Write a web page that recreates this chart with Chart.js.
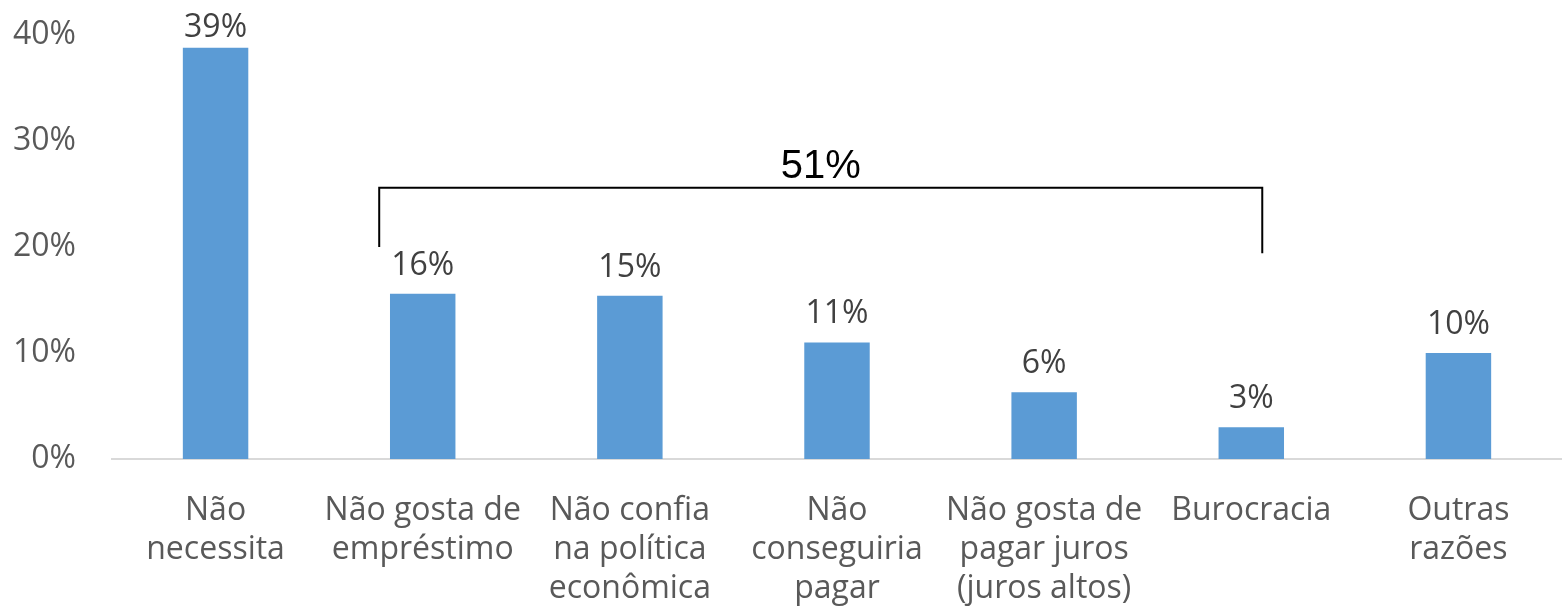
<!DOCTYPE html>
<html>
<head>
<meta charset="utf-8">
<script src="https://cdn.jsdelivr.net/npm/chart.js@4/dist/chart.umd.min.js"></script>
<style>
  html, body { margin: 0; padding: 0; background: #fff; }
  #wrap { width: 1562px; height: 615px; }
</style>
</head>
<body>
<div id="wrap"><canvas id="grafico"></canvas></div>
<script>
// dados
const categorias = [
  ['Não', 'necessita'],
  ['Não gosta de', 'empréstimo'],
  ['Não confia', 'na política', 'econômica'],
  ['Não', 'conseguiria', 'pagar'],
  ['Não gosta de', 'pagar juros', '(juros altos)'],
  ['Burocracia'],
  ['Outras', 'razões']
];
const valores = [38.8, 15.6, 15.4, 11.0, 6.3, 3.0, 10.0];
const ticksY = [0, 10, 20, 30, 40];
const grupoChave = [1, 2, 3, 4, 5]; // barras somadas no colchete (51%)

const corTexto = '#595959';
const fonte = '"Open Sans", "DejaVu Sans", sans-serif';

// rótulos em cima das barras
const rotulosPlugin = {
  id: 'rotulos',
  afterDatasetsDraw(chart) {
    const ctx = chart.ctx;
    const meta = chart.getDatasetMeta(0);
    ctx.save();
    ctx.font = '32px ' + fonte;
    ctx.fillStyle = '#404040';
    ctx.textAlign = 'center';
    ctx.textBaseline = 'alphabetic';
    meta.data.forEach((bar, i) => {
      const y = Math.max(bar.y - 19, 37);
      ctx.fillText(Math.round(valores[i]) + '%', bar.x, y);
    });
    ctx.restore();
  }
};

// colchete com o total
const colchetePlugin = {
  id: 'colchete',
  afterDraw(chart) {
    const { ctx, scales: { x, y } } = chart;
    const total = grupoChave.reduce((s, i) => s + valores[i], 0);
    const x1 = x.getPixelForValue(grupoChave[0] - 0.21);
    const x2 = x.getPixelForValue(grupoChave[grupoChave.length - 1] + 0.053);
    const yTopo = y.getPixelForValue(25.6);
    const yEsq = y.getPixelForValue(20.0);
    const yDir = y.getPixelForValue(19.4);
    ctx.save();
    ctx.strokeStyle = '#000';
    ctx.lineWidth = 2;
    ctx.beginPath();
    ctx.moveTo(x1, yEsq);
    ctx.lineTo(x1, yTopo);
    ctx.lineTo(x2, yTopo);
    ctx.lineTo(x2, yDir);
    ctx.stroke();
    ctx.fillStyle = '#000';
    ctx.font = '40px "Liberation Sans", Arial, sans-serif';
    ctx.textAlign = 'center';
    ctx.textBaseline = 'alphabetic';
    ctx.fillText(Math.round(total) + '%', (x1 + x2) / 2, yTopo - 10);
    ctx.restore();
  }
};

new Chart(document.getElementById('grafico'), {
  type: 'bar',
  data: {
    labels: categorias,
    datasets: [{
      data: valores,
      backgroundColor: '#5B9BD5',
      categoryPercentage: 1,
      barPercentage: 0.316
    }]
  },
  options: {
    responsive: true,
    maintainAspectRatio: false,
    animation: false,
    layout: { padding: { top: 35, right: 0, bottom: 0, left: 0 } },
    plugins: { legend: { display: false }, tooltip: { enabled: false } },
    scales: {
      x: {
        afterFit(scale) { scale.height = 156; },
        grid: { display: false },
        border: { display: true, color: '#d9d9d9', width: 2 },
        ticks: {
          color: corTexto,
          font: { family: fonte, size: 32, lineHeight: 1.22 },
          padding: 24,
          maxRotation: 0,
          autoSkip: false
        }
      },
      y: {
        min: 0,
        max: 40,
        afterBuildTicks(scale) { scale.ticks = ticksY.map(v => ({ value: v })); },
        afterFit(scale) { scale.width = 112; scale.paddingTop = 0; scale.paddingBottom = 0; },
        grid: { display: false },
        border: { display: false },
        ticks: {
          color: corTexto,
          font: { family: fonte, size: 32, lineHeight: 1 },
          padding: 28,
          callback: v => v + '%'
        }
      }
    }
  },
  plugins: [rotulosPlugin, colchetePlugin]
});
</script>
</body>
</html>
